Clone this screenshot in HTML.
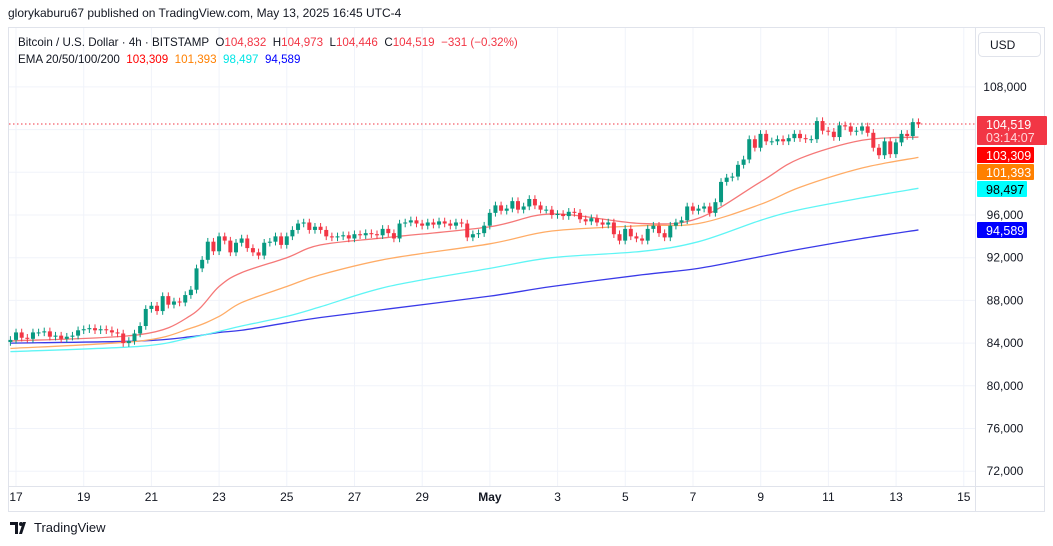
<!DOCTYPE html>
<html><head><meta charset="utf-8"><style>
body{margin:0;width:1053px;height:546px;background:#fff;font-family:"Liberation Sans",sans-serif;overflow:hidden;position:relative}
.hdr{position:absolute;left:8px;top:6px;font-size:12px;color:#131722}
.ft{position:absolute;left:10px;top:520px;font-size:13px;color:#131722;display:flex;align-items:center;gap:4px}
</style></head><body>
<div class="hdr">glorykaburu67 published on TradingView.com, May 13, 2025 16:45 UTC-4</div>
<svg id="c" width="1053" height="546" style="position:absolute;left:0;top:0"></svg>
<div class="ft"><svg width="20" height="12" viewBox="0 0 20 12"><path d="M0 0h8v12H5V3H0z M9 12l4-12h3l-4 12z" fill="#131722"/><circle cx="11" cy="2" r="2" fill="#131722"/></svg>TradingView</div>
<script>
const closes=[84.3,85.0,84.5,84.4,85.0,85.0,85.1,84.6,84.7,84.4,84.6,84.7,85.2,85.3,85.4,85.2,85.3,85.2,85.0,84.9,84.0,84.2,84.9,85.6,87.2,87.5,87.0,88.4,87.6,87.9,87.8,88.5,89.0,91.0,91.8,93.5,92.6,94.0,93.6,92.5,93.4,93.8,92.9,92.5,92.2,93.4,93.5,94.0,93.2,94.0,94.6,95.2,95.3,94.6,94.9,94.6,94.0,93.9,94.0,94.1,93.8,94.2,94.1,94.3,94.2,94.1,94.7,94.3,93.8,95.2,95.3,95.5,95.2,95.0,95.3,95.1,95.4,95.2,95.0,95.3,95.2,93.9,94.2,94.3,95.0,96.2,96.9,96.4,96.6,97.3,96.5,96.8,97.5,96.9,96.5,96.5,96.0,96.1,95.9,96.3,96.2,95.6,95.4,95.7,95.3,95.1,95.3,94.2,93.6,94.7,94.0,93.8,93.6,94.7,95.0,94.3,93.9,95.0,95.3,95.5,96.8,96.4,96.6,96.8,96.2,97.2,99.1,99.5,99.6,100.7,101.2,103.1,102.3,103.6,102.9,102.9,103.1,102.9,103.2,103.6,103.2,103.1,103.1,104.8,103.9,103.8,103.3,104.4,104.3,103.8,103.9,104.3,103.7,102.3,101.6,102.9,101.7,102.8,103.6,103.4,104.7,104.5];
const firstOpen=84.1;
const emaIdx=[0,23,32,37,41,49,55,67,85,96,112,122,133,140,151,161];
const ema20=[84.2,84.8,86.6,89.3,90.6,92.0,93.2,93.9,94.9,96.1,95.2,95.7,99.1,101.3,103.0,103.3];
const ema50=[83.5,84.2,85.4,86.5,87.8,89.3,90.4,91.9,93.3,94.5,95.0,95.2,97.0,98.6,100.4,101.4];
const ema100=[83.2,83.7,84.5,85.1,85.6,86.5,87.4,89.3,91.0,92.0,92.6,93.5,95.5,96.5,97.6,98.5];
const ema200=[84.0,84.2,84.6,85.0,85.2,85.9,86.4,87.2,88.4,89.3,90.4,91.0,92.1,92.8,93.8,94.6];
const yTicks=[108,104,100,96,92,88,84,80,76,72];
const yTickShown=[true,false,false,true,true,true,true,true,true,true];
const xLabels=["17","19","21","23","25","27","29","May","3","5","7","9","11","13","15"];
const lastPrice=104.519;
const NS="http://www.w3.org/2000/svg",svg=document.getElementById('c');
const Y=p=>215-(p-96)*10.675, X=i=>10.4+i*5.64;
function el(t,a,p){const e=document.createElementNS(NS,t);for(const k in a)e.setAttribute(k,a[k]);(p||svg).appendChild(e);return e;}
let f=el('rect',{x:8.5,y:27.5,width:1036,height:484,fill:'none',stroke:'#e0e3eb'});

el('line',{x1:975.5,y1:28,x2:975.5,y2:511,stroke:'#e0e3eb'});
el('line',{x1:8,y1:486.5,x2:1044,y2:486.5,stroke:'#e0e3eb'});
yTicks.forEach((t,k)=>{
  el('line',{x1:9,x2:975,y1:Y(t),y2:Y(t),stroke:'#f0f3fa'});
  if(yTickShown[k]){const tx=el('text',{x:1005,y:Y(t)+4,'font-size':12,fill:'#131722','text-anchor':'middle'});tx.textContent=(t*1000).toLocaleString('en-US');
  }
});
xLabels.forEach((l,k)=>{const x=16+k*2*33.85;
  el('line',{x1:x,x2:x,y1:28,y2:486,stroke:'#f0f3fa'});
  const tx=el('text',{x:x,y:501,'font-size':12,fill:'#131722','text-anchor':'middle','font-weight':l=='May'?'bold':'normal'});tx.textContent=l;
  });
function line(vals,col,name,w){
  const pts=emaIdx.map((i,k)=>[X(i),Y(vals[k])]);
  let d='M'+pts[0][0]+' '+pts[0][1];
  for(let k=0;k<pts.length-1;k++){const p0=pts[Math.max(0,k-1)],p1=pts[k],p2=pts[k+1],p3=pts[Math.min(pts.length-1,k+2)];
    const c1=[p1[0]+(p2[0]-p0[0])/6,p1[1]+(p2[1]-p0[1])/6],c2=[p2[0]-(p3[0]-p1[0])/6,p2[1]-(p3[1]-p1[1])/6];
    d+=' C'+c1[0]+' '+c1[1]+' '+c2[0]+' '+c2[1]+' '+p2[0]+' '+p2[1];}
  const p=el('path',{d:d,fill:'none',stroke:col,'stroke-width':w,'stroke-linejoin':'round'});
  }
line(ema200,'#3a3ae8','ema-200-line',1.3);
line(ema100,'#5ff5f5','ema-100-line',1.3);
line(ema50,'#ffac66','ema-50-line',1.3);
line(ema20,'#f57878','ema-20-line',1.3);
el('line',{x1:9,x2:975,y1:Y(lastPrice),y2:Y(lastPrice),stroke:'#f23645','stroke-dasharray':'1.5 2.5'});
closes.forEach((c,i)=>{const o=i?closes[i-1]:firstOpen,up=c>=o,col=up?'#089981':'#f23645',x=X(i);
  const hi=Math.max(o,c)+0.35,lo=Math.min(o,c)-0.35;
  const g=el('g',{});
  el('line',{x1:x,x2:x,y1:Y(hi),y2:Y(lo),stroke:col},g);
  const t=Y(Math.max(o,c)),b=Y(Math.min(o,c));
  el('rect',{x:x-2,y:t,width:4,height:Math.max(1,b-t),fill:col},g);});
function txt(x,y,s,col,name){const t=el('text',{x:x,y:y,'font-size':12,fill:col});t.textContent=s;return t;}
const l1=el('text',{x:18,y:46,'font-size':11.6,fill:'#131722'});
l1.style.whiteSpace='pre';
l1.innerHTML='Bitcoin / U.S. Dollar · 4h · BITSTAMP  O<tspan fill="#f23645">104,832</tspan>  H<tspan fill="#f23645">104,973</tspan>  L<tspan fill="#f23645">104,446</tspan>  C<tspan fill="#f23645">104,519</tspan>  <tspan fill="#f23645">−331 (−0.32%)</tspan>';
const l2=el('text',{x:18,y:63,'font-size':11.6,fill:'#131722'});
l2.style.whiteSpace='pre';
l2.innerHTML='EMA 20/50/100/200  <tspan fill="#ff0000">103,309</tspan>  <tspan fill="#ff8000">101,393</tspan>  <tspan fill="#00e5e5">98,497</tspan>  <tspan fill="#0000ff">94,589</tspan>';
const ub=el('rect',{x:978.5,y:32.5,width:62,height:24,rx:4,fill:'#fff',stroke:'#e0e3eb'});
txt(990,49,'USD','#131722','currency-label');
function tag(y,h,w,bg,fg,s,name){const r=el('rect',{x:977,y:y,width:w,height:h,fill:bg,rx:1});
  const t=el('text',{x:986,y:y+13,'font-size':12.5,fill:fg});t.textContent=s;return t;}
tag(116,29,70,'#f23645','#fff','104,519','last-price-tag');
const cd=el('text',{x:986,y:142,'font-size':12.5,fill:'#ffd6da'});cd.textContent='03:14:07';
tag(147,16,57,'#ff0000','#fff','103,309','ema20-tag');
tag(164,16,57,'#ff8000','#fff','101,393','ema50-tag');
tag(181,16,50,'#00ffff','#000','98,497','ema100-tag');
tag(222,16,50,'#0000ff','#fff','94,589','ema200-tag');
</script>
</body></html>
